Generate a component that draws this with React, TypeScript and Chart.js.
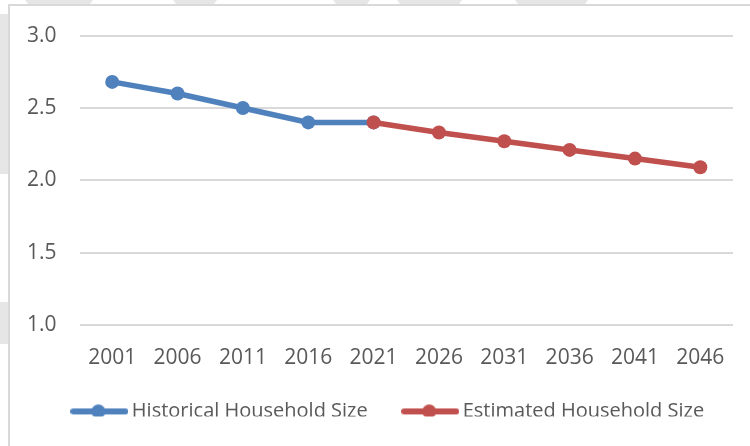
import React, { useEffect, useRef } from "react";
import { Chart, registerables } from "chart.js";

Chart.register(...registerables);

const years = ["2001", "2006", "2011", "2016", "2021", "2026", "2031", "2036", "2041", "2046"];
const historical = [2.68, 2.6, 2.5, 2.4, 2.4, null, null, null, null, null];
const estimated = [null, null, null, null, 2.4, 2.33, 2.27, 2.21, 2.15, 2.09];
const seriesNames = ["Historical Household Size", "Estimated Household Size"];
const seriesColors = ["#4F81BD", "#C0504D"];
const yMin = 1.0;
const yMax = 3.0;
const yStep = 0.5;

function makeLegendIcon(color: string): HTMLCanvasElement {
  const c = document.createElement("canvas");
  c.width = 58;
  c.height = 16;
  const ctx = c.getContext("2d")!;
  ctx.strokeStyle = color;
  ctx.lineWidth = 6;
  ctx.lineCap = "round";
  ctx.beginPath();
  ctx.moveTo(3, 8);
  ctx.lineTo(55, 8);
  ctx.stroke();
  ctx.fillStyle = color;
  ctx.beginPath();
  ctx.arc(28, 8, 7, 0, Math.PI * 2);
  ctx.fill();
  return c;
}

const framePlugin = {
  id: "frame",
  afterLayout(chart: any) {
    const lg = chart.legend;
    if (lg) {
      const h = lg.bottom - lg.top;
      lg.top = chart.chartArea.bottom + 36.4;
      lg.bottom = lg.top + h;
      lg.left += 22;
      lg.right += 22;
    }
  },
  beforeDraw(chart: any) {
    const ctx = chart.ctx;
    const w = chart.width;
    const h = chart.height;
    ctx.save();
    ctx.fillStyle = "#ffffff";
    ctx.fillRect(0, 0, w, h);
    ctx.fillStyle = "#e6e6e6";
    const topShapes = [
      [25, 93],
      [173, 217],
      [333, 370],
      [397, 462],
      [515, 588],
    ];
    for (const [a, b] of topShapes) {
      ctx.beginPath();
      ctx.moveTo(a, 0);
      ctx.lineTo(b, 0);
      ctx.lineTo(b - 3, 4);
      ctx.lineTo(a + 3, 4);
      ctx.closePath();
      ctx.fill();
    }
    ctx.fillRect(0, 14, 8, 160);
    ctx.fillRect(0, 302, 8, 42);
    ctx.strokeStyle = "#d9d9d9";
    ctx.lineWidth = 2;
    ctx.beginPath();
    ctx.moveTo(w, 5);
    ctx.lineTo(9, 5);
    ctx.lineTo(9, h);
    ctx.stroke();
    ctx.restore();
  },
};

export default function App() {
  const ref = useRef<HTMLCanvasElement | null>(null);

  useEffect(() => {
    if (!ref.current) return;
    const icons = seriesColors.map(makeLegendIcon);
    const font = { family: "'Open Sans', sans-serif", size: 21 };
    const legendFont = { family: "'Open Sans', sans-serif", size: 20 };
    const chart = new Chart(ref.current, {
      type: "line",
      data: {
        labels: years,
        datasets: [
          {
            label: seriesNames[0],
            data: historical,
            borderColor: seriesColors[0],
            backgroundColor: seriesColors[0],
            borderWidth: 5.5,
            pointRadius: 7,
            pointBorderWidth: 0,
            pointBackgroundColor: seriesColors[0],
            tension: 0,
            spanGaps: false,
            order: 1,
          },
          {
            label: seriesNames[1],
            data: estimated,
            borderColor: seriesColors[1],
            backgroundColor: seriesColors[1],
            borderWidth: 5.5,
            pointRadius: 7,
            pointBorderWidth: 0,
            pointBackgroundColor: seriesColors[1],
            tension: 0,
            spanGaps: false,
            order: 0,
          },
        ],
      },
      options: {
        responsive: false,
        animation: false,
        layout: { padding: { left: 4, right: 17, top: 34, bottom: 0 } },
        scales: {
          x: {
            offset: true,
            grid: { display: false, drawTicks: false },
            border: { display: false },
            ticks: { color: "#595959", font, padding: 20.4, maxRotation: 0 },
          },
          y: {
            min: yMin,
            max: yMax,
            grid: { color: "#d9d9d9", lineWidth: 2, drawTicks: false },
            border: { display: false },
            ticks: {
              stepSize: yStep,
              color: "#595959",
              font,
              padding: 23,
              callback: (v: any) => Number(v).toFixed(1),
            },
          },
        },
        plugins: {
          title: { display: false },
          tooltip: { enabled: false },
          legend: {
            display: true,
            position: "bottom",
            maxHeight: 55,
            labels: {
              usePointStyle: true,
              pointStyleWidth: 45,
              padding: 40,
              color: "#595959",
              font: legendFont,
              generateLabels: () =>
                seriesNames.map((name, i) => ({
                  text: name,
                  fillStyle: seriesColors[i],
                  strokeStyle: seriesColors[i],
                  fontColor: "#595959",
                  lineWidth: 0,
                  pointStyle: icons[i],
                  hidden: false,
                  datasetIndex: i,
                })),
            },
          },
        },
      },
      plugins: [framePlugin],
    } as any);
    return () => chart.destroy();
  }, []);

  return (
    <div style={{ position: "fixed", left: 0, top: 0, width: 750, height: 446 }}>
      <canvas ref={ref} width={750} height={446} style={{ display: "block" }} />
    </div>
  );
}
